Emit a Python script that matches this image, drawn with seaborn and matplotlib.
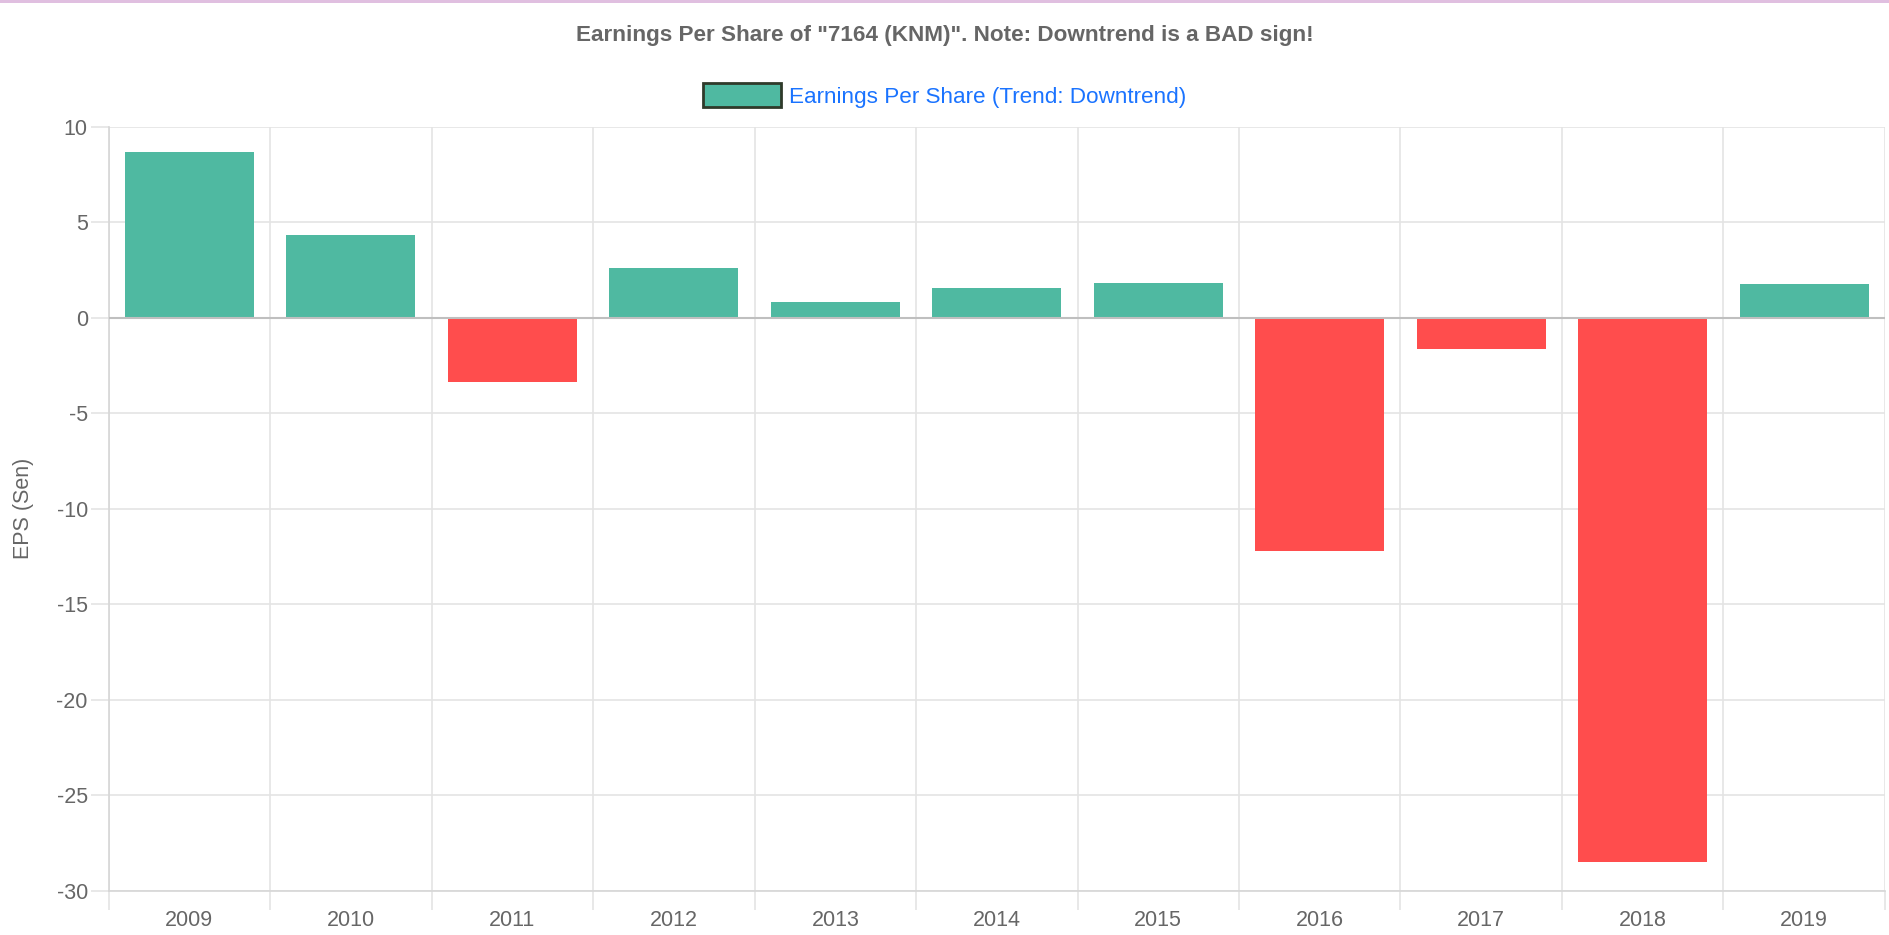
import numpy as np
import matplotlib
matplotlib.use("Agg")
import matplotlib.pyplot as plt
import seaborn as sns
from matplotlib.patches import Patch, Rectangle

years = ["2009", "2010", "2011", "2012", "2013", "2014", "2015", "2016", "2017", "2018", "2019"]
eps = [8.69, 4.35, -3.35, 2.62, 0.84, 1.57, 1.81, -12.22, -1.61, -28.48, 1.78]
yticks = [-30, -25, -20, -15, -10, -5, 0, 5, 10]

title = 'Earnings Per Share of "7164 (KNM)". Note: Downtrend is a BAD sign!'
legend_label = "Earnings Per Share (Trend: Downtrend)"

GREEN = "#4fb9a1"
RED = "#ff4d4d"
GRID = "#e4e4e4"
TEXT = "#666666"


def main():
    sns.set_style("white")
    plt.rcParams["font.family"] = ["Liberation Sans", "DejaVu Sans"]
    plt.rcParams["axes.unicode_minus"] = False

    fig = plt.figure(figsize=(18.89, 9.35), dpi=100)
    ax = fig.add_axes([0.05754, 0.04706, 0.9403, 0.8174])

    sign = ["pos" if v >= 0 else "neg" for v in eps]
    sns.barplot(
        x=years,
        y=eps,
        hue=sign,
        palette={"pos": GREEN, "neg": RED},
        saturation=1,
        dodge=False,
        legend=False,
        width=0.8,
        linewidth=0,
        ax=ax,
        zorder=3,
    )

    ax.set_xlim(-0.5, len(years) - 0.5)
    ax.set_ylim(-30, 10)
    ax.set_yticks(yticks)
    ax.set_yticklabels([str(t) for t in yticks])

    # category boundaries as minor ticks -> vertical grid + tick marks
    ax.set_xticks(np.arange(-0.5, len(years)), minor=True)
    ax.grid(which="minor", axis="x", color=GRID, linewidth=1.2, zorder=0)
    ax.grid(which="major", axis="y", color=GRID, linewidth=1.2, zorder=0)
    ax.axhline(0, color="#bfbfbf", linewidth=1.5, zorder=4)

    ax.tick_params(axis="x", which="major", length=0, pad=14, labelsize=15.5, labelcolor=TEXT)
    ax.tick_params(axis="x", which="minor", length=14, width=1.2, color=GRID, direction="out")
    ax.tick_params(axis="y", length=13, width=1.2, color=GRID, pad=2, labelsize=15.5, labelcolor=TEXT)
    ax.tick_params(bottom=True, left=True, which="both")

    for side in ["top", "right"]:
        ax.spines[side].set_visible(False)
    for side in ["left", "bottom"]:
        ax.spines[side].set_color("#d6d6d6")
        ax.spines[side].set_linewidth(1.2)

    ax.set_xlabel("")
    ax.set_ylabel("EPS (Sen)", fontsize=15.5, color=TEXT)
    ax.yaxis.set_label_coords(-0.042, 0.5)

    fig.text(0.5, 0.962, title, ha="center", va="center", fontsize=16.2,
             fontweight="bold", color=TEXT)

    handle = Patch(facecolor=GREEN, edgecolor="#2f3a2a", linewidth=2)
    fig.legend(
        handles=[handle],
        labels=[legend_label],
        loc="center",
        bbox_to_anchor=(0.5, 0.898),
        frameon=False,
        fontsize=16.2,
        labelcolor="#1a73ff",
        handlelength=3.5,
        handleheight=1.3,
        handletextpad=0.35,
    )

    # thin purple strip along the top edge
    fig.patches.append(Rectangle((0, 1 - 3 / 935), 1, 3 / 935, transform=fig.transFigure,
                                 facecolor="#e0bfe0", edgecolor="none"))

    fig.savefig("out.png", dpi=100)


if __name__ == "__main__":
    main()
